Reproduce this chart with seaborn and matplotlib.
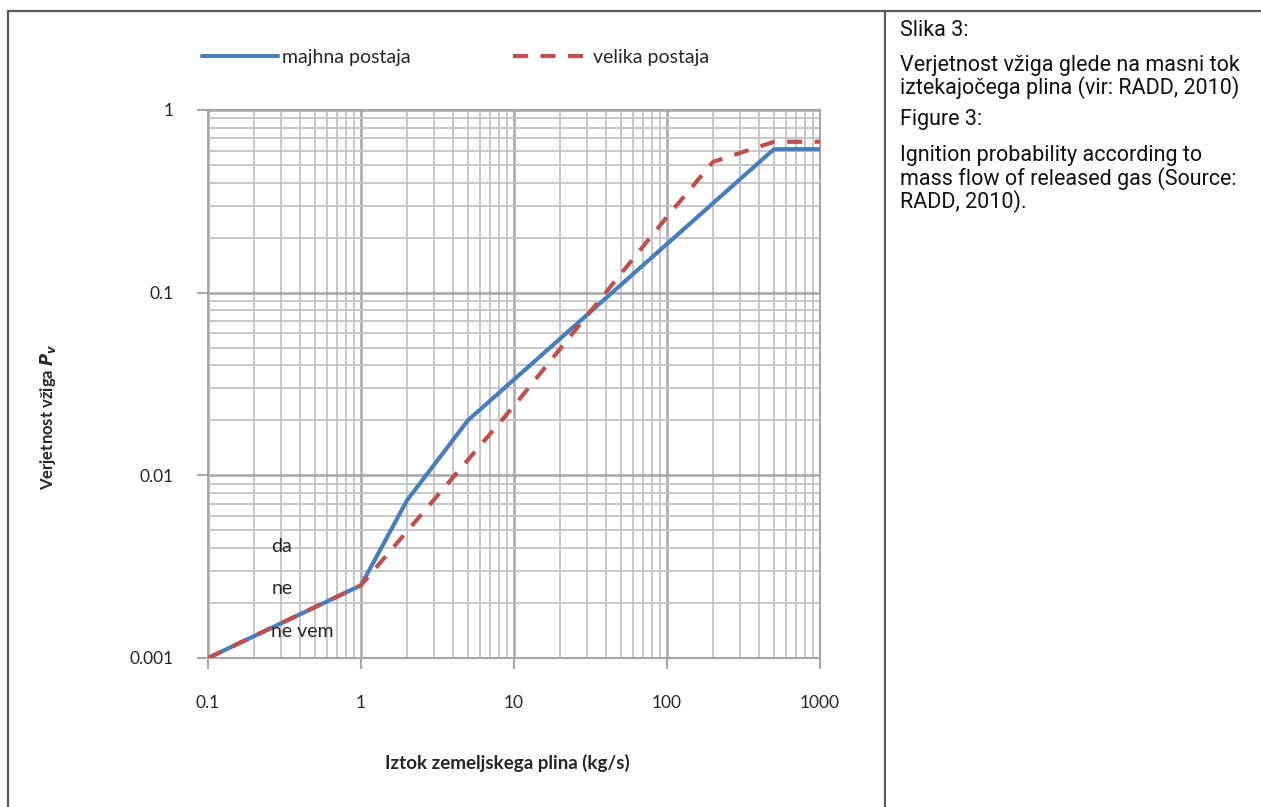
import numpy as np
import pandas as pd
import matplotlib
matplotlib.use("Agg")
import matplotlib.pyplot as plt
import seaborn as sns
from matplotlib.lines import Line2D

# data
flow_small = [0.1, 1, 2, 5, 500, 1000]
prob_small = [0.001, 0.0025, 0.0073, 0.02, 0.61, 0.61]
flow_large = [0.1, 1, 10, 100, 200, 500, 1000]
prob_large = [0.001, 0.0025, 0.024, 0.26, 0.52, 0.67, 0.67]

x_ticks = [0.1, 1, 10, 100, 1000]
x_ticklabels = ["0.1", "1", "10", "100", "1000"]
y_ticks = [0.001, 0.01, 0.1, 1]
y_ticklabels = ["0.001", "0.01", "0.1", "1"]

stray_labels = ["da", "ne", "ne vem"]
stray_y = [0.0041, 0.00241, 0.0014]

caption = ["Slika 3:",
           "Verjetnost vžiga glede na masni tok",
           "iztekajočega plina (vir: RADD, 2010)",
           "Figure 3:",
           "Ignition probability according to",
           "mass flow of released gas (Source:",
           "RADD, 2010)."]
caption_y = [30, 65, 88, 120, 156, 179, 202]

sns.set_style("white")
plt.rcParams["font.family"] = ["Lato", "DejaVu Sans"]

W, H = 1261, 807
fig = plt.figure(figsize=(W / 100, H / 100), dpi=100)
ax = fig.add_axes([208 / W, 1 - 658 / H, (820 - 208) / W, (658 - 110) / H])
ax.set_xscale("log")
ax.set_yscale("log")

df_small = pd.DataFrame({"flow": flow_small, "prob": prob_small})
df_large = pd.DataFrame({"flow": flow_large, "prob": prob_large})

sns.lineplot(data=df_small, x="flow", y="prob", ax=ax, color="#4a7ebb",
             lw=3.0, label="majhna postaja", sort=False, estimator=None, zorder=3)
sns.lineplot(data=df_large, x="flow", y="prob", ax=ax, color="#c0504d",
             lw=3.0, linestyle=(0, (3.6, 3)), label="velika postaja",
             sort=False, estimator=None, zorder=4)

ax.set_xlim(0.1, 1000)
ax.set_ylim(0.001, 1)
ax.set_xticks(x_ticks)
ax.set_xticklabels(x_ticklabels)
ax.set_yticks(y_ticks)
ax.set_yticklabels(y_ticklabels)

ax.grid(which="major", color="#a8a8a8", lw=1.8)
ax.grid(which="minor", color="#c4c4c4", lw=1.3)
ax.tick_params(which="major", length=8, width=1.5, color="#a8a8a8",
               labelsize=12.5, bottom=True, left=True)
ax.tick_params(which="minor", length=0)
ax.tick_params(axis="y", pad=17)
ax.tick_params(axis="x", pad=19)
for s in ax.spines.values():
    s.set_color("#a8a8a8")
    s.set_linewidth(1.5)

ax.set_xlabel("Iztok zemeljskega plina (kg/s)", fontsize=13.5, fontweight="bold")
ax.xaxis.set_label_coords(0.489, -0.175)
ax.set_ylabel(r"Verjetnost vžiga $\mathbfit{P}_{\mathbfit{v}}$", fontsize=12,
              fontweight="bold")
ax.yaxis.set_label_coords(-0.245, 0.44)

for lab, yv in zip(stray_labels, stray_y):
    ax.text(0.26, yv, lab, fontsize=14, va="center", ha="left", zorder=5)

ax.legend(loc="center left", bbox_to_anchor=(202 / W, 1 - 57 / H),
          bbox_transform=fig.transFigure, ncol=2, frameon=False,
          fontsize=14, handlelength=3.9, handletextpad=0.2,
          columnspacing=5.3, borderpad=0, borderaxespad=0)

# frame and divider
border = dict(color="#5a5a5a", lw=1.6, transform=fig.transFigure)
fig.add_artist(Line2D([8 / W, 1], [1 - 11 / H, 1 - 11 / H], **border))
fig.add_artist(Line2D([8 / W, 8 / W], [0, 1 - 11 / H], **border))
fig.add_artist(Line2D([885 / W, 885 / W], [0, 1 - 11 / H], **border))

for line, yp in zip(caption, caption_y):
    fig.text(900 / W, 1 - yp / H, line, fontsize=15.5, va="center", ha="left",
             family=["Roboto", "DejaVu Sans"], color="#111111")

fig.savefig("out.png", dpi=100, facecolor="white")
